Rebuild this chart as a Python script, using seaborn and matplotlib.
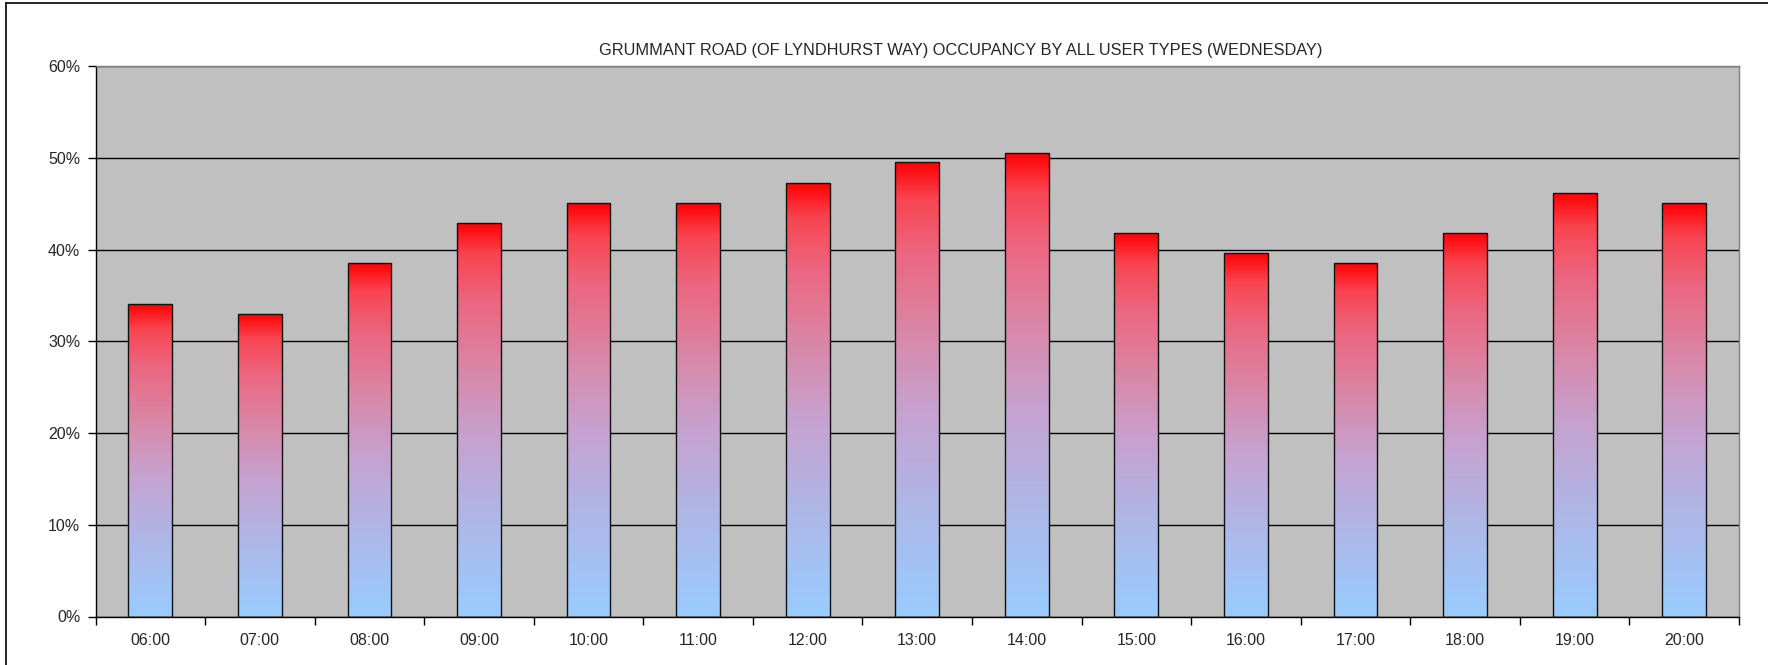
import numpy as np
import pandas as pd
import matplotlib
matplotlib.use("Agg")
import matplotlib.pyplot as plt
from matplotlib.colors import LinearSegmentedColormap
from matplotlib.ticker import FixedLocator, PercentFormatter
import seaborn as sns

hours = ["06:00", "07:00", "08:00", "09:00", "10:00", "11:00", "12:00", "13:00",
         "14:00", "15:00", "16:00", "17:00", "18:00", "19:00", "20:00"]
occupancy = [34.1, 33.0, 38.5, 42.9, 45.1, 45.1, 47.3, 49.5,
             50.5, 41.8, 39.6, 38.5, 41.8, 46.2, 45.1]
title = "GRUMMANT ROAD (OF LYNDHURST WAY) OCCUPANCY BY ALL USER TYPES (WEDNESDAY)"

df = pd.DataFrame({"hour": hours, "occ": occupancy})

sns.set_style("white")
plt.rcParams["font.family"] = ["Liberation Sans", "DejaVu Sans"]

fig = plt.figure(figsize=(17.68, 6.65), dpi=100)
ax = fig.add_axes([95.5/1768, (665-616.5)/665, (1739-95.5)/1768, (616.5-66)/665])
ax.set_facecolor("#c0c0c0")

sns.barplot(data=df, x="hour", y="occ", ax=ax, width=0.4,
            color="white", edgecolor="#111111", linewidth=1.0, zorder=3)

# red-to-light-blue fill, one gradient per bar
grad = LinearSegmentedColormap.from_list("rb", [
    (0.0, "#99ccff"), (0.25, "#afb6e6"), (0.45, "#c6a2d0"),
    (0.62, "#d888a8"), (0.8, "#ec6680"), (0.92, "#f84450"), (1.0, "#ff0000")])
g = np.linspace(0, 1, 256).reshape(-1, 1)
for p in ax.patches:
    x0, w, h = p.get_x(), p.get_width(), p.get_height()
    p.set_facecolor("none")
    im = ax.imshow(g, cmap=grad, origin="lower", aspect="auto",
                   extent=(x0, x0 + w, 0, h), zorder=2.5)
    im.set_clip_path(p)

ax.set_xlim(-0.5, len(hours) - 0.5)
ax.set_ylim(0, 60)
ax.set_xlabel("")
ax.set_ylabel("")

ax.yaxis.set_major_locator(FixedLocator(np.arange(0, 61, 10)))
ax.yaxis.set_major_formatter(PercentFormatter(decimals=0))
ax.grid(axis="y", color="black", linewidth=1.0, zorder=1)
ax.set_axisbelow(True)

ax.xaxis.set_minor_locator(FixedLocator(np.arange(-0.5, len(hours), 1)))
ax.tick_params(axis="x", which="major", length=0, pad=12, labelsize=11.5)
ax.tick_params(axis="x", which="minor", length=6, width=1, color="black", direction="out")
ax.tick_params(axis="y", length=6, width=1, color="black", direction="out", labelsize=11.5, pad=5)
ax.tick_params(left=True, bottom=True, which="both")

for s in ["left", "bottom"]:
    ax.spines[s].set_color("black")
    ax.spines[s].set_linewidth(1.0)
for s in ["top", "right"]:
    ax.spines[s].set_visible(True)
    ax.spines[s].set_color("#808080")
    ax.spines[s].set_linewidth(1.0)

fig.text(961/1768, 1 - 51/665, title, ha="center", va="center", fontsize=11.8)

# outer chart border (left and top edges)
fig.add_artist(plt.Line2D([6/1768, 6/1768], [0, 1 - 3/665], color="black", linewidth=1.2))
fig.add_artist(plt.Line2D([6/1768, 1], [1 - 3/665, 1 - 3/665], color="black", linewidth=1.2))

fig.savefig("out.png", dpi=100)
